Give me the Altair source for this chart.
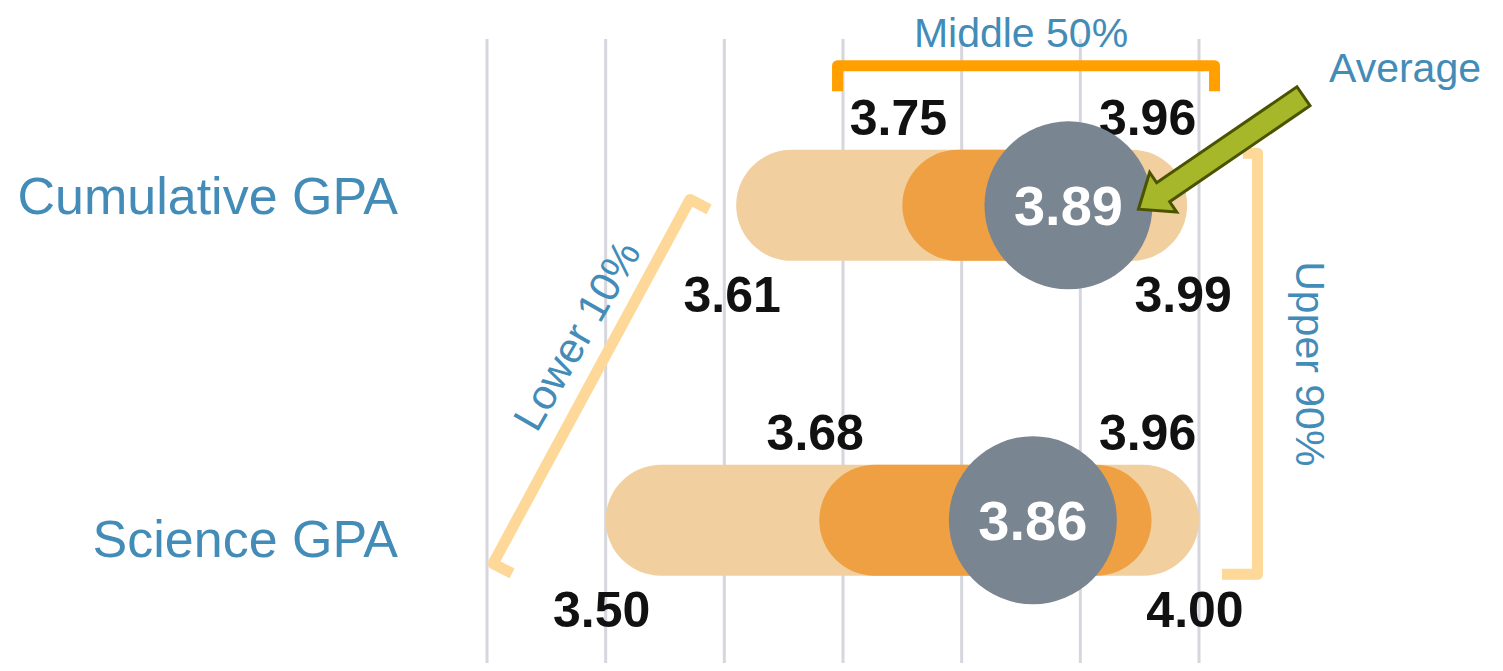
import altair as alt
import pandas as pd

# ---------------- data ----------------
categories = ["Cumulative GPA", "Science GPA"]
lower_10 = [3.61, 3.50]
quart_25 = [3.75, 3.68]
quart_75 = [3.96, 3.96]
upper_90 = [3.99, 4.00]
average = [3.89, 3.86]
grid_values = [3.4, 3.5, 3.6, 3.7, 3.8, 3.9, 4.0]

df = pd.DataFrame({
    "category": categories,
    "row": list(range(len(categories))),
    "p10": lower_10,
    "p25": quart_25,
    "p75": quart_75,
    "p90": upper_90,
    "avg": average,
})
grid_df = pd.DataFrame({"g": grid_values})

# ---------------- annotation layout (data units: GPA on x, row index on y) ----------------
cat_labels = pd.DataFrame({
    "category": categories,
    "lx": [3.325, 3.325],
    "ly": [0.028, 1.116],
})

brackets = pd.DataFrame({
    "id": ["mid"] * 4 + ["upper"] * 4 + ["lower"] * 4,
    "i": [0, 1, 2, 3] * 3,
    "x": [3.6954, 3.6954, 4.0131, 4.0131,
          4.0371, 4.0493, 4.0493, 4.0194,
          3.5871, 3.5711, 3.4051, 3.4211],
    "y": [-0.3625, -0.44375, -0.44375, -0.3625,
          -0.1656, -0.1656, 1.1719, 1.1719,
          0.0125, -0.0188, 1.1375, 1.1688],
})

flat_notes = pd.DataFrame({"text": ["Middle 50%", "Average"], "x": [3.85, 4.1736], "y": [-0.5031, -0.3906]})
upper_note = pd.DataFrame({"text": ["Upper 90%"], "x": [4.0919], "y": [0.5031]})
lower_note = pd.DataFrame({"text": ["Lower 10%"], "x": [3.4767], "y": [0.4156]})
arrow_pos = pd.DataFrame({"x": [4.0185], "y": [-0.1672]})

# ---------------- style ----------------
LIGHT = "#f2cf9e"
DARK = "#eea042"
GREY = "#798591"
BLUE = "#438cb8"
ORANGE = "#ffa000"
PALE = "#fed898"
FONT = "Liberation Sans"
ARROW = "M-1,-0.115L0.7,-0.115L0.7,-0.24L1,0L0.7,0.24L0.7,0.115L-1,0.115Z"

XS = alt.Scale(domain=[3.4, 4.0], nice=False, zero=False)
YS = alt.Scale(domain=[-0.5125, 1.4375], reverse=True, nice=False, zero=False)


def X(field):
    return alt.X(f"{field}:Q", scale=XS, axis=None, title=None)


def Y(field):
    return alt.Y(f"{field}:Q", scale=YS, axis=None, title=None)


base = alt.Chart(df)

grid = alt.Chart(grid_df).mark_rule(color="#d6d6de", strokeWidth=3).encode(x=X("g"))

light = base.mark_bar(color=LIGHT, size=111, cornerRadius=55.5, orient="horizontal").encode(
    x=X("p10"), x2="p90:Q", y=Y("row"))
dark = base.mark_bar(color=DARK, size=111, cornerRadius=55.5, orient="horizontal").encode(
    x=X("p25"), x2="p75:Q", y=Y("row"))


def pct_label(field, dy):
    return base.mark_text(font=FONT, fontSize=50, fontWeight="bold", color="#111111",
                          dy=dy, dx=-4, baseline="alphabetic", align="center").encode(
        x=X(field), y=Y("row"), text=alt.Text(f"{field}:Q", format=".2f"))


labels = [pct_label("p25", -70), pct_label("p75", -70), pct_label("p10", 107), pct_label("p90", 107)]

circles = base.mark_circle(color=GREY, opacity=1, size=28224).encode(x=X("avg"), y=Y("row"))
circle_text = base.mark_text(font=FONT, fontSize=56, fontWeight="bold", color="white",
                             dy=20, baseline="alphabetic", align="center").encode(
    x=X("avg"), y=Y("row"), text=alt.Text("avg:Q", format=".2f"))

cat_text = alt.Chart(cat_labels).mark_text(font=FONT, fontSize=52, color=BLUE, align="right",
                                           baseline="alphabetic").encode(
    x=X("lx"), y=Y("ly"), text="category:N")

mid_bracket = alt.Chart(brackets).transform_filter(alt.datum.id == "mid").mark_line(
    color=ORANGE, strokeWidth=11, strokeJoin="round", strokeCap="butt").encode(
    x=X("x"), y=Y("y"), order="i:Q")
pale_brackets = alt.Chart(brackets).transform_filter(alt.datum.id != "mid").mark_line(
    color=PALE, strokeWidth=11, strokeJoin="round", strokeCap="butt").encode(
    x=X("x"), y=Y("y"), order="i:Q", detail="id:N")

flat_text = alt.Chart(flat_notes).mark_text(font=FONT, fontSize=41, color=BLUE, align="center",
                                            baseline="alphabetic").encode(
    x=X("x"), y=Y("y"), text="text:N")
upper_text = alt.Chart(upper_note).mark_text(font=FONT, fontSize=41, color=BLUE, align="center",
                                             baseline="middle", angle=90).encode(
    x=X("x"), y=Y("y"), text="text:N")
lower_text = alt.Chart(lower_note).mark_text(font=FONT, fontSize=42, color=BLUE, align="center",
                                             baseline="middle", angle=300).encode(
    x=X("x"), y=Y("y"), text="text:N")

arrow = alt.Chart(arrow_pos).mark_point(shape=ARROW, filled=True, fill="#a6b82a", stroke="#4b5300",
                                        strokeWidth=3, size=40000, angle=145.6, opacity=1).encode(
    x=X("x"), y=Y("y"))

chart = alt.layer(
    grid, light, *labels, dark, circles, circle_text, cat_text,
    mid_bracket, pale_brackets, flat_text, upper_text, lower_text, arrow,
).properties(
    width=712, height=624,
    padding={"left": 479, "top": 31, "right": 296, "bottom": 0},
    autosize="none",
).configure_view(stroke=None)

chart.save("out.html", embed_options={"renderer": "svg", "actions": False})
